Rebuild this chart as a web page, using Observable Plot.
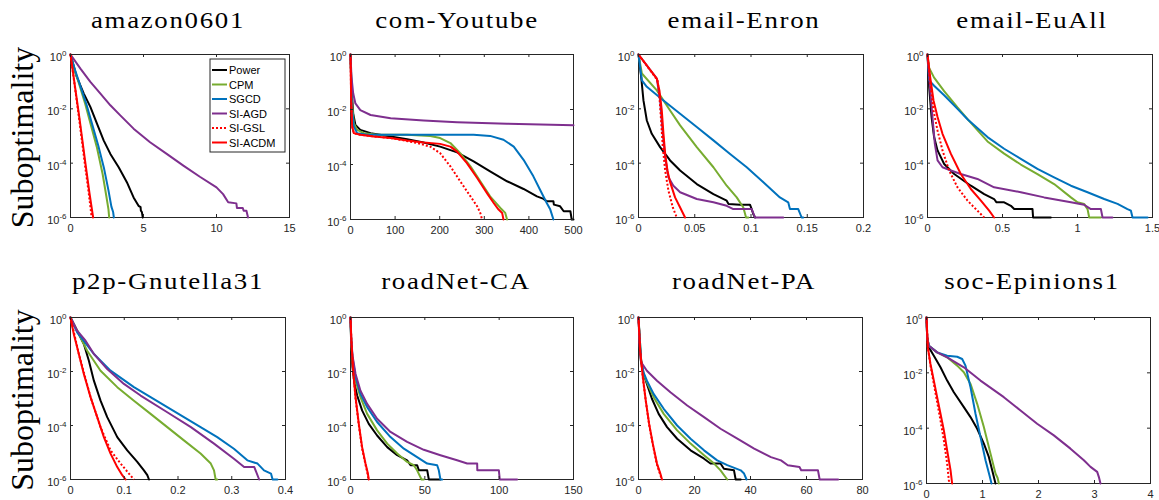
<!DOCTYPE html>
<html><head><meta charset="utf-8">
<script src="https://cdn.jsdelivr.net/npm/d3@7"></script>
<script src="https://cdn.jsdelivr.net/npm/@observablehq/plot@0.6"></script>
<style>
body{margin:0;background:#fff;}
#root{position:relative;width:1159px;height:500px;overflow:hidden;background:#fff;}
</style></head>
<body><div id="root"></div>
<script>
// ---- categories / styles ----
const methods = ["Power","CPM","SGCD","SI-AGD","SI-GSL","SI-ACDM"];
const colors  = ["#000000","#77AC30","#0072BD","#7E2F8E","#FF0000","#FF0000"];
const dashes  = [null,null,null,null,"2,2",null];
const datasets = ["amazon0601","com-Youtube","email-Enron","email-EuAll","p2p-Gnutella31","roadNet-CA","roadNet-PA","soc-Epinions1"];
const yTicks = [1,1e-2,1e-4,1e-6];
const xTicks_amazon = [0,5,10,15];
const xTicks_youtube = [0,100,200,300,400,500];
const xTicks_enron = [0,0.05,0.1,0.15,0.2];
const xTicks_euall = [0,0.5,1,1.5];
const xTicks_p2p = [0,0.1,0.2,0.3,0.4];
const xTicks_roadCA = [0,50,100,150];
const xTicks_roadPA = [0,20,40,60,80];
const xTicks_epinions = [0,1,2,3,4];

// ---- series: [x, log10(suboptimality)] ----
const amazon_Power = [[0,0],[0.41,-0.80],[0.91,-1.44],[1.36,-1.93],[1.82,-2.55],[2.27,-3.16],[2.73,-3.66],[3.30,-4.15],[3.86,-4.70],[4.32,-5.26],[4.66,-5.57],[4.80,-5.62],[4.82,-5.75],[4.89,-5.8],[4.95,-6]];
const amazon_CPM = [[0,0],[0.3,-0.6],[0.6,-1.1],[1.0,-1.8],[1.4,-2.6],[1.8,-3.4],[2.2,-4.4],[2.45,-5.2],[2.6,-5.7],[2.65,-6]];
const amazon_SGCD = [[0,0],[0.3,-0.55],[0.7,-1.2],[1.1,-1.85],[1.5,-2.6],[1.9,-3.35],[2.3,-4.2],[2.6,-5.0],[2.8,-5.6],[2.92,-5.8],[2.97,-6]];
const amazon_SIAGD = [[0,0],[0.68,-0.52],[1.36,-1.01],[2.05,-1.44],[2.73,-1.87],[3.41,-2.24],[4.32,-2.73],[5.45,-3.23],[6.59,-3.66],[7.73,-4.09],[8.86,-4.5],[10.0,-4.89],[10.45,-5.14],[10.8,-5.44],[11.36,-5.48],[11.4,-5.65],[11.8,-5.65],[11.86,-5.75],[12.05,-5.75],[12.16,-6]];
const amazon_SIGSL = [[0,0],[0.3,-1.2],[0.6,-2.4],[1.0,-4.1],[1.25,-5.1],[1.45,-6]];
const amazon_SIACDM = [[0,0],[0.3,-1.15],[0.6,-2.3],[1.02,-4.0],[1.3,-5.1],[1.55,-6]];

const youtube_Power = [[0,0],[2.2,-1.17],[6,-2.14],[11,-2.56],[22,-2.74],[45,-2.86],[90,-2.98],[127,-3.08],[164,-3.2],[201,-3.35],[239,-3.56],[276,-3.89],[313,-4.25],[351,-4.61],[388,-4.89],[418,-5.16],[433,-5.25],[440,-5.34],[455,-5.34],[456,-5.46],[470,-5.52],[478,-5.7],[493,-5.7],[496,-6],[500,-6]];
const youtube_CPM = [[0,0],[3,-1.65],[7.5,-2.5],[15,-2.74],[30,-2.86],[60,-2.92],[127,-2.92],[179,-2.96],[201,-3.04],[224,-3.22],[246,-3.59],[269,-4.07],[291,-4.61],[313,-5.16],[336,-5.58],[347,-5.76],[351,-6]];
const youtube_SGCD = [[0,0],[3,-1.9],[7.5,-2.62],[15,-2.86],[37,-2.92],[90,-2.92],[276,-2.92],[313,-2.96],[343,-3.1],[366,-3.35],[388,-3.83],[410,-4.43],[425,-4.92],[440,-5.4],[448,-5.64],[455,-6]];
const youtube_SIAGD = [[0,0],[2.2,-0.81],[6,-1.41],[11,-1.78],[22,-2.02],[45,-2.2],[90,-2.32],[164,-2.4],[239,-2.46],[351,-2.52],[500,-2.57]];
const youtube_SIGSL = [[0,0],[1.5,-1.65],[3.7,-2.62],[7.5,-2.86],[22,-2.92],[52,-2.98],[90,-3.04],[112,-3.1],[149,-3.22],[179,-3.35],[201,-3.59],[224,-4.07],[246,-4.61],[269,-5.16],[284,-5.52],[291,-5.76],[295,-6]];
const youtube_SIACDM = [[0,0],[1.5,-1.65],[3.7,-2.62],[7.5,-2.86],[22,-2.92],[52,-2.98],[90,-3.04],[127,-3.13],[164,-3.2],[201,-3.25],[224,-3.35],[239,-3.53],[261,-3.95],[284,-4.49],[306,-5.04],[321,-5.4],[332,-5.64],[340,-5.76],[343,-6]];

const enron_Power = [[0,0],[0.0024,-0.83],[0.0044,-1.69],[0.0074,-2.43],[0.0118,-2.92],[0.0192,-3.41],[0.0281,-3.9],[0.037,-4.27],[0.0518,-4.77],[0.0666,-5.14],[0.0784,-5.38],[0.08,-5.5],[0.0902,-5.53],[0.0991,-5.53],[0.1006,-5.69],[0.102,-5.87],[0.1036,-6]];
const enron_CPM = [[0,0],[0.003,-0.7],[0.0163,-1.32],[0.0281,-2.06],[0.037,-2.61],[0.0518,-3.41],[0.0666,-4.15],[0.0784,-4.83],[0.0873,-5.26],[0.0932,-5.63],[0.0956,-6],[0.0976,-6]];
const enron_SGCD = [[0,0],[0.003,-0.95],[0.0074,-1.19],[0.0222,-1.69],[0.037,-2.18],[0.0518,-2.67],[0.0666,-3.16],[0.0814,-3.66],[0.0962,-4.15],[0.111,-4.7],[0.1257,-5.26],[0.1331,-5.44],[0.1346,-5.69],[0.142,-5.69],[0.145,-6],[0.1464,-6]];
const enron_SIAGD = [[0,0],[0.0163,-0.89],[0.0192,-1.69],[0.0216,-2.92],[0.0237,-3.78],[0.0266,-4.52],[0.031,-4.83],[0.037,-5.07],[0.0518,-5.32],[0.0666,-5.44],[0.0784,-5.57],[0.0843,-5.69],[0.1006,-5.69],[0.1036,-6],[0.1287,-6]];
const enron_SIGSL = [[0,0],[0.0169,-0.95],[0.0186,-1.56],[0.0201,-2.43],[0.0216,-3.41],[0.0237,-4.27],[0.0266,-5.01],[0.0305,-5.63],[0.034,-6]];
const enron_SIACDM = [[0,0],[0.0163,-0.89],[0.0186,-1.32],[0.0207,-2.06],[0.0222,-2.92],[0.0237,-3.66],[0.0257,-4.27],[0.0281,-4.7],[0.0325,-5.26],[0.037,-5.63],[0.0414,-6]];

const euall_Power = [[0,0],[0.011,-1.19],[0.027,-2.3],[0.044,-3.04],[0.067,-3.53],[0.111,-4.03],[0.178,-4.4],[0.289,-4.83],[0.378,-5.14],[0.444,-5.32],[0.46,-5.44],[0.511,-5.44],[0.556,-5.57],[0.578,-5.69],[0.7,-5.69],[0.704,-6],[0.822,-6]];
const euall_CPM = [[0,0],[0.011,-0.5],[0.044,-0.85],[0.111,-1.35],[0.2,-1.95],[0.27,-2.4],[0.4,-3.2],[0.511,-3.65],[0.622,-4.05],[0.733,-4.4],[0.844,-4.77],[0.956,-5.26],[1.0,-5.44],[1.044,-5.5],[1.067,-5.69],[1.078,-6],[1.156,-6]];
const euall_SGCD = [[0,0],[0.011,-0.95],[0.044,-1.15],[0.111,-1.5],[0.2,-2.0],[0.27,-2.4],[0.4,-3.04],[0.511,-3.47],[0.622,-3.84],[0.733,-4.21],[0.844,-4.52],[0.956,-4.83],[1.067,-5.07],[1.178,-5.32],[1.267,-5.5],[1.333,-5.69],[1.356,-5.75],[1.367,-6],[1.467,-6]];
const euall_SIAGD = [[0,0],[0.016,-1.19],[0.033,-2.3],[0.049,-3.29],[0.067,-3.9],[0.1,-4.15],[0.156,-4.27],[0.222,-4.4],[0.333,-4.58],[0.444,-4.89],[0.622,-5.07],[0.778,-5.26],[0.956,-5.44],[1.044,-5.53],[1.089,-5.69],[1.156,-5.69],[1.167,-6],[1.233,-6]];
const euall_SIGSL = [[0,0],[0.018,-1.07],[0.04,-2.06],[0.067,-2.8],[0.1,-3.53],[0.144,-4.27],[0.2,-4.89],[0.267,-5.38],[0.333,-5.75],[0.378,-6]];
const euall_SIACDM = [[0,0],[0.018,-0.83],[0.04,-1.69],[0.067,-2.3],[0.1,-2.92],[0.156,-3.66],[0.222,-4.4],[0.289,-4.95],[0.356,-5.38],[0.411,-5.75],[0.444,-6]];

const p2p_Power = [[0,0],[0.0124,-0.49],[0.0248,-0.98],[0.0342,-1.6],[0.0435,-2.34],[0.0559,-3.08],[0.0683,-3.69],[0.087,-4.43],[0.1056,-4.92],[0.1242,-5.35],[0.1366,-5.66],[0.1429,-5.84],[0.146,-6]];
const p2p_CPM = [[0,0],[0.0124,-0.49],[0.031,-1.23],[0.0559,-1.97],[0.087,-2.58],[0.118,-3.08],[0.149,-3.57],[0.18,-4.06],[0.211,-4.55],[0.242,-5.04],[0.261,-5.41],[0.267,-5.66],[0.27,-6],[0.273,-6]];
const p2p_SGCD = [[0,0],[0.0124,-0.55],[0.0435,-1.35],[0.0745,-1.97],[0.118,-2.58],[0.149,-2.95],[0.18,-3.32],[0.211,-3.69],[0.242,-4.06],[0.273,-4.43],[0.304,-4.86],[0.329,-5.29],[0.348,-5.41],[0.36,-5.66],[0.373,-5.78],[0.376,-6],[0.385,-6]];
const p2p_SIAGD = [[0,0],[0.0124,-0.49],[0.028,-0.86],[0.0435,-1.35],[0.0683,-1.91],[0.0994,-2.46],[0.1304,-2.89],[0.18,-3.51],[0.224,-4.06],[0.267,-4.67],[0.304,-5.23],[0.323,-5.54],[0.342,-5.54],[0.351,-6]];
const p2p_SIGSL = [[0,0],[0.0155,-1.35],[0.0373,-2.95],[0.0559,-4.06],[0.0745,-4.92],[0.0932,-5.41],[0.1087,-5.78],[0.118,-6]];
const p2p_SIACDM = [[0,0],[0.0062,-0.62],[0.0155,-1.35],[0.0248,-2.09],[0.0373,-2.95],[0.0497,-3.69],[0.0621,-4.43],[0.0745,-5.04],[0.087,-5.54],[0.0963,-5.84],[0.1025,-6]];

const roadCA_Power = [[0,0],[0.45,-0.98],[1.35,-1.85],[2.7,-2.46],[4.5,-2.89],[7.8,-3.44],[12.3,-3.94],[17.9,-4.37],[24.7,-4.8],[31.4,-5.1],[38.1,-5.29],[40.4,-5.47],[44.8,-5.47],[46,-5.66],[51.6,-5.66],[52.7,-6],[60.5,-6]];
const roadCA_CPM = [[0,0],[0.45,-0.86],[1.35,-1.6],[3.4,-2.34],[6.7,-2.95],[11.2,-3.57],[17.9,-4.18],[24.7,-4.67],[31.4,-5.04],[38.1,-5.35],[42.6,-5.47],[44.8,-5.66],[47.8,-6],[49.3,-6]];
const roadCA_SGCD = [[0,0],[0.45,-0.8],[1.35,-1.48],[3.4,-2.21],[6.7,-2.83],[11.2,-3.32],[17.9,-3.87],[26.9,-4.43],[35.9,-4.86],[44.8,-5.17],[51.6,-5.41],[58.3,-5.47],[59.4,-5.66],[60.5,-6],[61.7,-6]];
const roadCA_SIAGD = [[0,0],[0.45,-0.74],[1.35,-1.41],[3.4,-2.09],[6.7,-2.71],[11.2,-3.2],[17.9,-3.75],[26.9,-4.24],[38.1,-4.61],[49.3,-4.9],[60.5,-5.1],[71.7,-5.29],[78.5,-5.41],[85.2,-5.41],[85.3,-5.66],[99.8,-5.66],[100.4,-6],[112.1,-6]];
const roadCA_SIGSL = [[0,0],[0.7,-1.0],[1.8,-2.0],[3.4,-3.0],[5.6,-4.0],[7.8,-4.85],[10.1,-5.45],[11.5,-5.8],[12.1,-6]];
const roadCA_SIACDM = [[0,0],[0.7,-0.98],[1.8,-1.97],[3.4,-2.95],[5.6,-3.94],[7.8,-4.8],[10.1,-5.41],[11.7,-5.78],[12.3,-6]];

const roadPA_Power = [[0,0],[0.36,-0.74],[0.84,-1.6],[1.8,-2.09],[3,-2.46],[4.8,-3.01],[7.2,-3.57],[10.2,-4.06],[13.8,-4.49],[18.6,-4.92],[23.4,-5.23],[25.7,-5.41],[29.3,-5.41],[30.5,-5.6],[34.1,-5.66],[34.7,-6],[36.5,-6]];
const roadPA_CPM = [[0,0],[0.36,-0.62],[0.96,-1.6],[1.8,-2.09],[3,-2.4],[5.4,-2.95],[9,-3.57],[13.8,-4.18],[18.6,-4.67],[23.4,-5.1],[27,-5.41],[29.3,-5.66],[31.7,-6]];
const roadPA_SGCD = [[0,0],[0.36,-0.62],[0.96,-1.6],[1.8,-2.03],[3,-2.34],[5.4,-2.83],[9,-3.38],[13.8,-4.0],[18.6,-4.49],[23.4,-4.92],[28.1,-5.29],[31.7,-5.47],[36.5,-5.66],[37.7,-5.78],[38.6,-6]];
const roadPA_SIAGD = [[0,0],[0.36,-0.98],[0.96,-1.66],[3,-1.97],[6.6,-2.34],[11.4,-2.77],[17.4,-3.26],[23.4,-3.69],[29.3,-4.12],[35.3,-4.49],[41.3,-4.86],[47.3,-5.17],[50.9,-5.29],[53.3,-5.47],[57.5,-5.54],[58.1,-5.66],[64.1,-5.66],[64.7,-6],[71.3,-6]];
const roadPA_SIGSL = [[0,0],[0.6,-1.25],[1.56,-2.25],[2.6,-3.1],[3.8,-3.97],[5.1,-4.7],[6.5,-5.42],[7.7,-5.8],[8.3,-6]];
const roadPA_SIACDM = [[0,0],[0.6,-1.23],[1.56,-2.21],[2.6,-3.08],[3.8,-3.94],[5.1,-4.67],[6.6,-5.41],[7.8,-5.78],[8.4,-6]];

const epinions_Power = [[0,0],[0.012,-0.72],[0.042,-1.08],[0.131,-1.38],[0.25,-1.8],[0.369,-2.28],[0.488,-2.7],[0.667,-3.24],[0.786,-3.6],[0.905,-4.02],[1.024,-4.56],[1.113,-5.04],[1.173,-5.52],[1.202,-5.76],[1.232,-6]];
const epinions_CPM = [[0,0],[0.012,-0.72],[0.042,-1.02],[0.19,-1.26],[0.369,-1.44],[0.548,-1.74],[0.667,-1.98],[0.786,-2.4],[0.905,-3.12],[1.024,-3.96],[1.143,-4.92],[1.232,-5.64],[1.27,-5.8],[1.292,-6]];
const epinions_SGCD = [[0,0],[0.012,-0.72],[0.042,-1.02],[0.19,-1.26],[0.369,-1.38],[0.548,-1.42],[0.637,-1.5],[0.696,-1.74],[0.786,-2.52],[0.875,-3.48],[0.964,-4.32],[1.054,-5.16],[1.131,-5.76],[1.161,-6]];
const epinions_SIAGD = [[0,0],[0.012,-0.72],[0.042,-1.02],[0.19,-1.26],[0.369,-1.44],[0.667,-1.8],[0.964,-2.28],[1.381,-2.88],[1.679,-3.36],[1.976,-3.84],[2.274,-4.26],[2.571,-4.74],[2.81,-5.16],[2.929,-5.4],[3.048,-5.58],[3.077,-5.76],[3.107,-6]];
const epinions_SIGSL = [[0,0],[0.024,-1.08],[0.071,-1.74],[0.131,-2.4],[0.19,-3.06],[0.25,-3.72],[0.31,-4.44],[0.369,-5.28],[0.405,-6]];
const epinions_SIACDM = [[0,0],[0.024,-1.08],[0.071,-1.68],[0.131,-2.28],[0.19,-2.88],[0.25,-3.48],[0.31,-4.08],[0.369,-4.8],[0.429,-5.52],[0.458,-6]];

// ---- layout (pixels) ----
const panelLeft   = [70, 350, 638, 927, 70, 350, 638, 926];
const panelRight  = [289, 573, 863, 1152, 285, 573, 862, 1150];
const panelTop    = [54, 54, 54, 54, 317, 317, 317, 317];
const panelBottom = [217, 219, 217, 217, 479, 479, 479, 483];
const titleX      = [168, 457, 744, 1032, 168, 456, 744, 1032];
const titleBase   = [28, 28, 28, 28, 289, 289, 289, 289];

const panelSeries = [
  [amazon_Power, amazon_CPM, amazon_SGCD, amazon_SIAGD, amazon_SIGSL, amazon_SIACDM],
  [youtube_Power, youtube_CPM, youtube_SGCD, youtube_SIAGD, youtube_SIGSL, youtube_SIACDM],
  [enron_Power, enron_CPM, enron_SGCD, enron_SIAGD, enron_SIGSL, enron_SIACDM],
  [euall_Power, euall_CPM, euall_SGCD, euall_SIAGD, euall_SIGSL, euall_SIACDM],
  [p2p_Power, p2p_CPM, p2p_SGCD, p2p_SIAGD, p2p_SIGSL, p2p_SIACDM],
  [roadCA_Power, roadCA_CPM, roadCA_SGCD, roadCA_SIAGD, roadCA_SIGSL, roadCA_SIACDM],
  [roadPA_Power, roadPA_CPM, roadPA_SGCD, roadPA_SIAGD, roadPA_SIGSL, roadPA_SIACDM],
  [epinions_Power, epinions_CPM, epinions_SGCD, epinions_SIAGD, epinions_SIGSL, epinions_SIACDM]
];
const panelXTicks = [xTicks_amazon, xTicks_youtube, xTicks_enron, xTicks_euall, xTicks_p2p, xTicks_roadCA, xTicks_roadPA, xTicks_epinions];

const axisColor = "#262626";
const root = document.getElementById("root");
const mL = 45, mR = 15, mT = 6, mB = 26;
const fmt = d3.format("~g");

datasets.forEach((name, i) => {
  const L = panelLeft[i], R = panelRight[i], T = panelTop[i], B = panelBottom[i];
  const pw = R - L, ph = B - T;
  const xt = panelXTicks[i];
  const rows = [];
  panelSeries[i].forEach((arr, j) => arr.forEach(([x, e]) => rows.push({method: methods[j], x, y: 10 ** e})));
  const marks = [Plot.frame({stroke: axisColor, strokeWidth: 1})];
  methods.forEach((m, j) => {
    marks.push(Plot.line(rows.filter(r => r.method === m), {
      x: "x", y: "y", stroke: "method", strokeWidth: 2,
      strokeDasharray: dashes[j] || undefined,
      strokeLinejoin: "round", strokeLinecap: dashes[j] ? "butt" : "round"
    }));
  });
  marks.push(
    Plot.tickX(xt, {x: d => d, insetTop: ph - 3, stroke: axisColor, strokeWidth: 1}),
    Plot.tickX(xt, {x: d => d, insetBottom: ph - 3, stroke: axisColor, strokeWidth: 1}),
    Plot.tickY(yTicks, {y: d => d, insetRight: pw - 3, stroke: axisColor, strokeWidth: 1}),
    Plot.tickY(yTicks, {y: d => d, insetLeft: pw - 3, stroke: axisColor, strokeWidth: 1}),
    Plot.axisX({ticks: xt, tickSize: 0, tickPadding: 7, tickFormat: fmt, label: null}),
    Plot.axisY({ticks: yTicks, tickSize: 0, tickPadding: 4, dy: 3, tickFormat: d => "10^" + Math.round(Math.log10(d)), label: null})
  );
  const svg = Plot.plot({
    width: pw + mL + mR, height: ph + mT + mB,
    marginLeft: mL, marginRight: mR, marginTop: mT, marginBottom: mB,
    x: {domain: [0, xt[xt.length - 1]], label: null},
    y: {type: "log", domain: [1e-6, 1], label: null},
    color: {domain: methods, range: colors},
    style: {background: "transparent", color: axisColor, fontFamily: "'Liberation Sans', Arial, sans-serif", fontSize: "11px", overflow: "visible"},
    marks
  });
  svg.style.position = "absolute";
  svg.style.left = (L - mL) + "px";
  svg.style.top = (T - mT) + "px";
  // superscript exponents on y tick labels
  svg.querySelectorAll('g[aria-label="y-axis tick label"] text').forEach(t => {
    const s = t.textContent;
    if (!s.includes("^")) return;
    const [b, e] = s.split("^");
    t.textContent = "";
    const ns = "http://www.w3.org/2000/svg";
    const t1 = document.createElementNS(ns, "tspan"); t1.textContent = b;
    const t2 = document.createElementNS(ns, "tspan"); t2.textContent = e;
    t2.setAttribute("dy", "-5"); t2.setAttribute("font-size", "8");
    t.appendChild(t1); t.appendChild(t2);
  });
  root.appendChild(svg);
});

// ---- overlay: titles, y labels, legend ----
const ov = d3.create("svg").attr("width", 1159).attr("height", 500)
  .style("position", "absolute").style("left", "0px").style("top", "0px");
datasets.forEach((name, i) => {
  ov.append("text").attr("transform", `translate(${titleX[i]},${titleBase[i]}) scale(1.12,1)`)
    .attr("text-anchor", "middle").attr("font-family", "'Liberation Serif','Times New Roman',serif")
    .attr("font-size", 24).attr("letter-spacing", 1.5).attr("fill", "#000").text(name);
});
[0, 4].forEach(i => {
  const cy = (panelTop[i] + panelBottom[i]) / 2 + 2;
  ov.append("text").attr("transform", `translate(33,${cy}) rotate(-90)`)
    .attr("text-anchor", "middle").attr("font-family", "'Liberation Serif','Times New Roman',serif")
    .attr("font-size", 32).attr("fill", "#000").text("Suboptimality");
});
const lg = ov.append("g").attr("transform", "translate(210,59)");
lg.append("rect").attr("width", 75).attr("height", 93).attr("fill", "#fff").attr("stroke", axisColor).attr("stroke-width", 1);
methods.forEach((m, j) => {
  const yy = 11 + j * 14.5;
  lg.append("line").attr("x1", 2).attr("x2", 17).attr("y1", yy).attr("y2", yy)
    .attr("stroke", colors[j]).attr("stroke-width", 2).attr("stroke-dasharray", dashes[j]);
  lg.append("text").attr("x", 19).attr("y", yy + 4).attr("font-family", "'Liberation Sans', Arial, sans-serif")
    .attr("font-size", 11).attr("fill", "#000").text(m);
});
root.appendChild(ov.node());
</script>
</body></html>
